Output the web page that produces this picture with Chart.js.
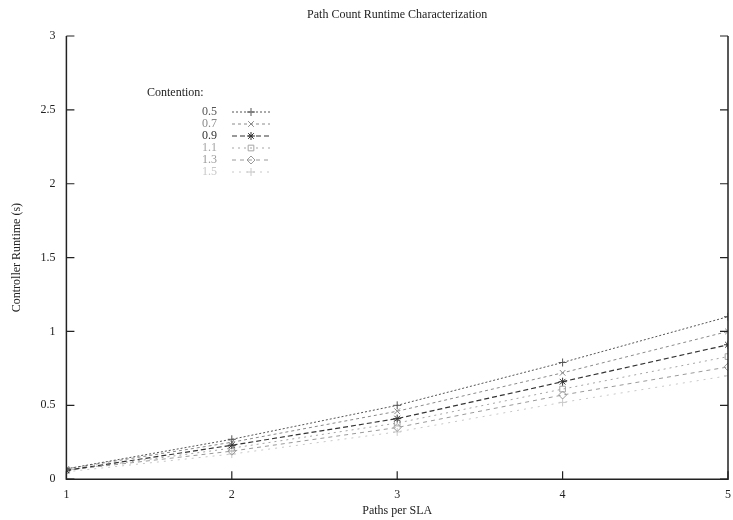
<!DOCTYPE html>
<html>
<head>
<meta charset="utf-8">
<script src="https://cdn.jsdelivr.net/npm/chart.js@4"></script>
<style>
  html, body { margin: 0; padding: 0; background: #fff; }
  #wrap { width: 733px; height: 520px; }
</style>
</head>
<body>
<div id="wrap"><canvas id="runtimeChart" width="733" height="520"></canvas></div>
<script>
"use strict";

// paths per SLA
const paths = [1, 2, 3, 4, 5];
const contention = ["0.5", "0.7", "0.9", "1.1", "1.3", "1.5"];

// controller runtime (s), one list per contention level
const runtime05 = [0.07, 0.27, 0.50, 0.79, 1.10];
const runtime07 = [0.07, 0.25, 0.46, 0.72, 1.00];
const runtime09 = [0.06, 0.23, 0.41, 0.66, 0.91];
const runtime11 = [0.06, 0.21, 0.38, 0.61, 0.83];
const runtime13 = [0.06, 0.19, 0.35, 0.57, 0.76];
const runtime15 = [0.05, 0.17, 0.32, 0.52, 0.70];

const yTicks = [0, 0.5, 1, 1.5, 2, 2.5, 3];

const styles = [
  { color: "#555", dash: [2, 2], point: "cross", w: 1 },
  { color: "#8a8a8a", dash: [3, 3], point: "crossRot", w: 1 },
  { color: "#333", dash: [5, 3], point: "star", w: 1.2 },
  { color: "#a5a5a5", dash: [2, 4], point: "rect", w: 1 },
  { color: "#9a9a9a", dash: [4, 4], point: "rectRot", w: 1 },
  { color: "#c8c8c8", dash: [2, 5], point: "cross", w: 1 }
];

const allRuntime = [runtime05, runtime07, runtime09, runtime11, runtime13, runtime15];

const serif = "'Liberation Serif', 'DejaVu Serif', serif";

// title centred over the plot, plus gnuplot style legend inside it
const legendPlugin = {
  id: "gnuLegend",
  afterDraw(chart) {
    const ctx = chart.ctx;
    const a = chart.chartArea;
    ctx.save();
    ctx.font = "12px " + serif;
    ctx.fillStyle = "#222";
    ctx.textBaseline = "middle";
    ctx.textAlign = "center";
    ctx.fillText("Path Count Runtime Characterization", (a.left + a.right) / 2, 15);
    ctx.textAlign = "left";
    ctx.fillText("Contention:", 147, 93);
    chart.data.datasets.forEach((ds, i) => {
      const y = 112 + i * 12;
      ctx.fillStyle = ds.borderColor;
      ctx.textAlign = "right";
      ctx.fillText(contention[i], 217, y);
      ctx.strokeStyle = ds.borderColor;
      ctx.lineWidth = 1;
      ctx.setLineDash(ds.borderDash);
      ctx.beginPath();
      ctx.moveTo(232, y);
      ctx.lineTo(270, y);
      ctx.stroke();
      ctx.setLineDash([]);
      ctx.fillStyle = "rgba(0,0,0,0)";
      Chart.helpers.drawPoint(ctx, {
        pointStyle: ds.pointStyle, radius: 4, borderWidth: 1, rotation: 0
      }, 251, y);
    });
    ctx.restore();
  }
};

// inward ticks and frame (left, bottom, right)
const framePlugin = {
  id: "frame",
  afterDraw(chart) {
    const ctx = chart.ctx;
    const a = chart.chartArea;
    const xs = chart.scales.x;
    const ys = chart.scales.y;
    ctx.save();
    ctx.strokeStyle = "#222";
    ctx.lineWidth = 1.5;
    ctx.beginPath();
    ctx.moveTo(a.left, a.top);
    ctx.lineTo(a.left, a.bottom);
    ctx.lineTo(a.right, a.bottom);
    ctx.lineTo(a.right, a.top);
    ctx.stroke();
    ctx.lineWidth = 1.2;
    ctx.beginPath();
    yTicks.forEach(v => {
      const py = ys.getPixelForValue(v);
      ctx.moveTo(a.left, py);
      ctx.lineTo(a.left + 8, py);
      ctx.moveTo(a.right, py);
      ctx.lineTo(a.right - 8, py);
    });
    paths.forEach(v => {
      const px = xs.getPixelForValue(v);
      ctx.moveTo(px, a.bottom);
      ctx.lineTo(px, a.bottom - 8);
    });
    ctx.stroke();
    ctx.restore();
  }
};

new Chart(document.getElementById("runtimeChart"), {
  type: "line",
  data: {
    datasets: allRuntime.map((vals, i) => ({
      label: contention[i],
      data: paths.map((p, j) => ({ x: p, y: vals[j] })),
      borderColor: styles[i].color,
      backgroundColor: styles[i].color,
      borderDash: styles[i].dash,
      borderWidth: styles[i].w,
      pointStyle: styles[i].point,
      pointRadius: 4,
      pointBorderWidth: 1,
      pointBackgroundColor: "rgba(0,0,0,0)",
      tension: 0
    }))
  },
  options: {
    responsive: false,
    animation: false,
    layout: { padding: { left: 10, right: 5, top: 36, bottom: 2 } },
    plugins: {
      legend: { display: false },
      tooltip: { enabled: false },
      title: { display: false }
    },
    scales: {
      x: {
        type: "linear",
        min: 1,
        max: 5,
        grid: { display: false },
        border: { display: false },
        afterBuildTicks: s => { s.ticks = paths.map(v => ({ value: v })); },
        ticks: { color: "#222", font: { family: serif, size: 12 }, padding: 0 },
        title: {
          display: true,
          text: "Paths per SLA",
          color: "#222",
          font: { family: serif, size: 12 },
          padding: { top: 2, bottom: 0 }
        }
      },
      y: {
        min: 0,
        max: 3,
        grid: { display: false },
        border: { display: false },
        afterBuildTicks: s => { s.ticks = yTicks.map(v => ({ value: v })); },
        ticks: {
          color: "#222",
          font: { family: serif, size: 12 },
          padding: 3,
          callback: v => String(v)
        },
        title: {
          display: true,
          text: "Controller Runtime (s)",
          color: "#222",
          font: { family: serif, size: 12 },
          padding: { top: 0, bottom: 13 }
        }
      }
    }
  },
  plugins: [legendPlugin, framePlugin]
});
</script>
</body>
</html>
